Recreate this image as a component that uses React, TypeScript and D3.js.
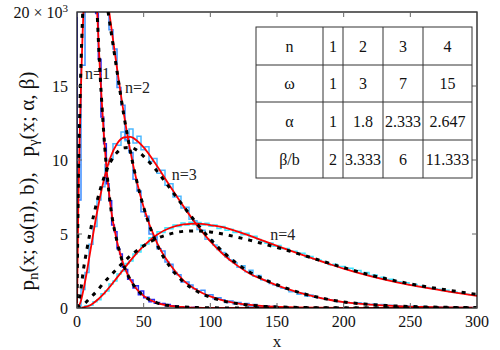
import React from 'react';
import * as d3 from 'd3';

// ---------- data ----------
const xTicks = [0, 50, 100, 150, 200, 250, 300];
const yTicks = [0, 5000, 10000, 15000];
const yTickLabels = ['0', '5', '10', '15'];

// n = 1
const n1X = [0, 5, 10, 15, 20, 25, 30, 35, 40, 45, 50, 60, 70, 80, 90, 100, 120, 150, 200, 300];
const n1Red = [100000, 58750, 34520, 20280, 11910, 7000, 4500, 2900, 1900, 1250, 820, 350, 150, 65, 28, 12, 2, 0, 0, 0];
const n1Dashed = [100000, 58750, 34520, 20280, 11910, 7000, 4500, 2900, 1900, 1250, 820, 350, 150, 65, 28, 12, 2, 0, 0, 0];

// n = 2
const n2X = [0, 1, 2, 3, 4, 5, 6, 8, 10, 13, 16, 20, 25, 30, 35, 40, 45, 50, 60, 70, 80, 90, 100, 110, 120, 130, 140, 160, 180, 200, 250, 300];
const n2Red = [0, 7000, 11500, 15000, 18000, 20500, 22000, 24000, 24800, 25000, 24500, 22600, 19450, 16200, 13200, 10600, 8500, 6800, 4400, 2900, 1850, 1200, 780, 500, 320, 205, 130, 55, 22, 9, 1, 0];
const n2Dashed = [0, 8500, 13000, 16500, 19300, 21500, 22900, 24300, 24700, 24600, 23700, 21900, 19000, 16000, 13100, 10600, 8500, 6800, 4300, 2750, 1750, 1130, 730, 470, 300, 190, 120, 48, 19, 7, 1, 0];

// n = 3
const n3X = [0, 2.5, 5, 7.5, 10, 15, 20, 25, 30, 35, 40, 45, 50, 60, 70, 80, 90, 100, 110, 120, 130, 140, 150, 160, 170, 180, 190, 200, 220, 240, 260, 280, 300];
const n3Red = [0, 350, 1300, 2500, 3850, 6450, 8600, 10150, 11100, 11520, 11560, 11300, 10850, 9600, 8200, 6850, 5600, 4500, 3600, 2880, 2300, 1900, 1530, 1220, 950, 730, 540, 400, 230, 130, 72, 40, 22];
const n3Dashed = [0, 1000, 2700, 4000, 5200, 7200, 8750, 9850, 10500, 10820, 10850, 10650, 10250, 9250, 8050, 6850, 5700, 4650, 3750, 3000, 2400, 1950, 1570, 1240, 960, 740, 550, 410, 235, 132, 75, 42, 24];

// n = 4
const n4X = [0, 5, 10, 15, 20, 25, 30, 35, 40, 50, 60, 70, 80, 90, 100, 110, 120, 130, 140, 150, 160, 170, 180, 190, 200, 220, 240, 260, 280, 300];
const n4Red = [0, 50, 190, 520, 950, 1480, 2050, 2620, 3200, 4200, 4950, 5420, 5650, 5700, 5600, 5450, 5180, 4870, 4530, 4200, 3880, 3560, 3250, 2950, 2660, 2150, 1730, 1390, 1090, 820];
const n4Dashed = [0, 250, 700, 1150, 1700, 2180, 2650, 3100, 3520, 4200, 4700, 5010, 5180, 5210, 5140, 4990, 4790, 4570, 4330, 4090, 3830, 3560, 3280, 3000, 2730, 2230, 1810, 1470, 1180, 920];

// histograms (bin width, counts per unit x)
const hist1Width = 2;
const hist1 = [92000, 71500, 59800, 46900, 38900, 30400, 25700, 19900, 16800, 12900, 11100, 8400, 7250, 5600, 5150, 4000, 3650, 2750, 2600, 1950, 1900, 1350, 1500, 900, 1150, 700, 720, 430, 580, 320, 380, 260, 300, 150, 240, 110, 160, 130, 60, 90, 40, 70, 20, 30, 50, 0, 20, 10, 0, 20];
const hist2Width = 3;
const hist2 = [7300, 16400, 22500, 25000, 25500, 25300, 24200, 21300, 18800, 17500, 14900, 13700, 11400, 10500, 8700, 7900, 6500, 6200, 5000, 4800, 4000, 3850, 3100, 2950, 2400, 2250, 1750, 1750, 1550, 1300, 1150, 1200, 820, 900, 620, 700, 560, 380, 480, 280, 380, 220, 310, 130, 230, 120, 150, 150, 70, 110];
const hist3Width = 3;
const hist3 = [150, 1250, 2400, 4300, 5500, 7300, 8200, 9700, 10050, 11100,
  11000, 11900, 11300, 12100, 11150, 11600, 10700, 10900, 9900, 10100,
  9100, 9300, 8300, 8400, 7500, 7550, 6750, 6800, 6000, 5900,
  5300, 5250, 4650, 4600, 4250, 3950, 3750, 3450, 3250, 3050,
  2750, 2850, 2450, 2550, 2150, 2200, 1900, 1850, 1650, 1560,
  1450, 1330, 1270, 1100, 1120, 930, 990, 800, 880, 720,
  700, 640, 600, 540, 490, 430, 420, 370, 360, 320,
  350, 300, 290, 240, 270, 200, 230, 170, 190, 140,
  160, 120, 135, 100, 120, 80, 95, 70, 75, 55,
  60, 45, 55, 35, 45, 30, 35, 25, 30, 20];
const hist4Width = 3;
const hist4 = [30, 40, 150, 180, 420, 560, 960, 1150, 1620, 1820,
  2300, 2500, 3000, 3180, 3650, 3780, 4250, 4330, 4750, 4780,
  5150, 5100, 5420, 5350, 5600, 5500, 5750, 5600, 5800, 5620,
  5780, 5600, 5720, 5520, 5600, 5380, 5500, 5250, 5320, 5100,
  5180, 4950, 5050, 4820, 4850, 4620, 4500, 4380, 4400, 4180,
  4230, 4000, 4020, 3840, 3830, 3650, 3700, 3450, 3480, 3300,
  3250, 3150, 3050, 2930, 2960, 2800, 2800, 2640, 2680, 2500,
  2540, 2350, 2400, 2200, 2230, 2050, 2080, 1930, 1950, 1800,
  1780, 1680, 1700, 1560, 1580, 1450, 1480, 1380, 1350, 1300,
  1260, 1180, 1200, 1100, 1080, 1000, 1020, 930, 900, 860];

// table
const tableHeads = ['n', 'ω', 'α', 'β/b'];
const tableN = ['1', '2', '3', '4'];
const tableOmega = ['1', '3', '7', '15'];
const tableAlpha = ['1', '1.8', '2.333', '2.647'];
const tableBeta = ['2', '3.333', '6', '11.333'];

// curve labels
const curveLabels = ['n=1', 'n=2', 'n=3', 'n=4'];
const curveLabelAt: [number, number][] = [[6, 15500], [36, 14500], [71, 8650], [145, 4600]];

const FONT = "'Liberation Serif', 'Times New Roman', 'DejaVu Serif', serif";

export default function App() {
  const left = 77, right = 477, top = 12, bottom = 308;
  const x = d3.scaleLinear().domain([0, 300]).range([left, right]);
  const y = d3.scaleLinear().domain([0, 20000]).range([bottom, top]);

  const smooth = d3.line<[number, number]>().x(d => x(d[0])).y(d => y(d[1])).curve(d3.curveMonotoneX);
  const step = d3.line<[number, number]>().x(d => x(d[0])).y(d => y(d[1])).curve(d3.curveStepAfter);

  const pts = (xs: number[], vs: number[]) => xs.map((v, i) => [v, vs[i]] as [number, number]);
  const histPts = (vals: number[], w: number) => {
    const p: [number, number][] = [[0, 0]];
    vals.forEach((v, i) => p.push([i * w, v]));
    p.push([vals.length * w, vals[vals.length - 1]]);
    return p;
  };

  const hists = [
    { vals: hist4, w: hist4Width, color: '#3ee6ff' },
    { vals: hist3, w: hist3Width, color: '#4cb8ff' },
    { vals: hist2, w: hist2Width, color: '#3f8fff' },
    { vals: hist1, w: hist1Width, color: '#2b2bf0' },
  ];
  const reds = [pts(n1X, n1Red), pts(n2X, n2Red), pts(n3X, n3Red), pts(n4X, n4Red)];
  const dashes = [pts(n1X, n1Dashed), pts(n2X, n2Dashed), pts(n3X, n3Dashed), pts(n4X, n4Dashed)];

  const colX = [256, 323, 343, 383, 423, 472];
  const rowY = [27, 65, 102, 140, 178];
  const tableRows = [tableN, tableOmega, tableAlpha, tableBeta];
  const tf: React.CSSProperties = { fontFamily: FONT };

  return (
    <svg width={500} height={350} style={{ position: 'absolute', left: 0, top: 0, background: '#fff', fontFamily: FONT }}>
      <defs>
        <clipPath id="plotclip">
          <rect x={left} y={top} width={right - left} height={bottom - top} />
        </clipPath>
      </defs>
      <rect x={0} y={0} width={500} height={350} fill="#fff" />

      {/* curve labels */}
      {curveLabels.map((t, i) => (
        <text key={t} x={x(curveLabelAt[i][0])} y={y(curveLabelAt[i][1])} fontSize={16} fill="#222" style={tf}>{t}</text>
      ))}

      <g clipPath="url(#plotclip)">
        {hists.map((h, i) => (
          <path key={'h' + i} d={step(histPts(h.vals, h.w)) || ''} fill="none" stroke={h.color} strokeWidth={1.5} />
        ))}
        {reds.map((p, i) => (
          <path key={'r' + i} d={smooth(p) || ''} fill="none" stroke="#ff0000" strokeWidth={1.8} />
        ))}
        {dashes.map((p, i) => (
          <path key={'d' + i} d={smooth(p) || ''} fill="none" stroke="#000" strokeWidth={3} strokeDasharray="4 6" />
        ))}
      </g>

      {/* frame */}
      <rect x={left} y={top} width={right - left} height={bottom - top} fill="none" stroke="#000" strokeWidth={1.2} />

      {/* ticks */}
      {xTicks.map(t => (
        <g key={'xt' + t}>
          <line x1={x(t)} x2={x(t)} y1={bottom} y2={bottom - 5} stroke="#666" />
          <line x1={x(t)} x2={x(t)} y1={top} y2={top + 5} stroke="#666" />
          <text x={x(t)} y={327} textAnchor="middle" fontSize={16} fill="#111" style={tf}>{t}</text>
        </g>
      ))}
      {yTicks.map((t, i) => (
        <g key={'yt' + t}>
          <line x1={left} x2={left + 5} y1={y(t)} y2={y(t)} stroke="#666" />
          <line x1={right} x2={right - 5} y1={y(t)} y2={y(t)} stroke="#666" />
          <text x={68} y={y(t) + 5.5} textAnchor="end" fontSize={16} fill="#111" style={tf}>{yTickLabels[i]}</text>
        </g>
      ))}
      <text x={68} y={y(20000) + 5.5} textAnchor="end" fontSize={16} fill="#111" style={tf}>
        20 × 10<tspan dy={-6} fontSize={11}>3</tspan>
      </text>

      {/* axis titles */}
      <text x={277} y={347} textAnchor="middle" fontSize={17} fill="#111" style={tf}>x</text>
      <text transform="translate(34,181) rotate(-90)" textAnchor="middle" fontSize={21} fill="#111"
        style={{ whiteSpace: 'pre', fontFamily: FONT }}>
        p<tspan dy={4} fontSize={15}>n</tspan><tspan dy={-4}>(x; ω(n), b),   p</tspan><tspan dy={4} fontSize={15}>γ</tspan><tspan dy={-4}>(x; α, β)</tspan>
      </text>

      {/* table */}
      <g>
        <rect x={colX[0]} y={rowY[0]} width={colX[5] - colX[0]} height={rowY[4] - rowY[0]} fill="#fff" stroke="#333" strokeWidth={1} />
        {rowY.slice(1, 4).map(r => (
          <line key={'rl' + r} x1={colX[0]} x2={colX[5]} y1={r} y2={r} stroke="#333" strokeWidth={1} />
        ))}
        {colX.slice(1, 5).map(c => (
          <line key={'cl' + c} x1={c} x2={c} y1={rowY[0]} y2={rowY[4]} stroke="#333" strokeWidth={1} />
        ))}
        {tableHeads.map((h, r) => (
          <g key={'tr' + r}>
            <text x={(colX[0] + colX[1]) / 2} y={(rowY[r] + rowY[r + 1]) / 2 + 5.5} textAnchor="middle" fontSize={16} fill="#111" style={tf}>{h}</text>
            {tableRows[r].map((v, c) => (
              <text key={c} x={(colX[c + 1] + colX[c + 2]) / 2} y={(rowY[r] + rowY[r + 1]) / 2 + 5.5}
                textAnchor="middle" fontSize={16} fill="#111" style={tf}>{v}</text>
            ))}
          </g>
        ))}
      </g>
    </svg>
  );
}
